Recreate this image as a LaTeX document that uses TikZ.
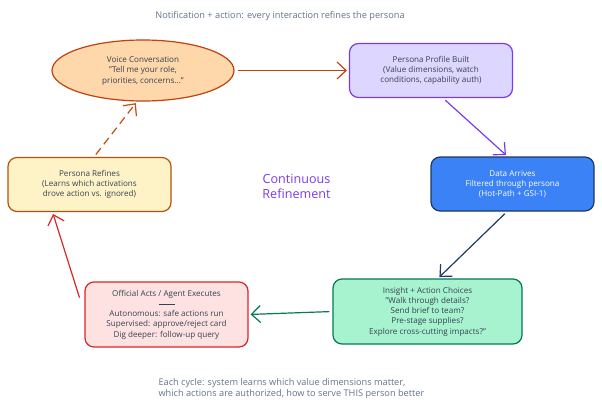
\documentclass[tikz,border=0pt]{standalone}
\usepackage{fontspec}
\setmainfont{Open Sans}
\usetikzlibrary{shapes.geometric,arrows.meta}

\definecolor{ink}{HTML}{374151}
\definecolor{note}{HTML}{64748B}
\definecolor{voice-fill}{HTML}{FED7AA}
\definecolor{voice-line}{HTML}{C2410C}
\definecolor{profile-fill}{HTML}{DDD6FE}
\definecolor{profile-line}{HTML}{7C3AED}
\definecolor{data-fill}{HTML}{3B82F6}
\definecolor{data-line}{HTML}{1E3A5F}
\definecolor{insight-fill}{HTML}{A7F3D0}
\definecolor{insight-line}{HTML}{047857}
\definecolor{acts-fill}{HTML}{FEE2E2}
\definecolor{acts-line}{HTML}{DC2626}
\definecolor{refine-fill}{HTML}{FEF3C7}
\definecolor{refine-line}{HTML}{B45309}

\begin{document}
\begin{tikzpicture}[x=1pt,y=-1pt,
            box-node/.style={rectangle,rounded corners=9pt,draw,line width=1.2pt,minimum width=163pt,minimum height=54pt,inner sep=0pt,align=center,text=ink,font=\fontsize{8.1}{10.3}\selectfont},
            oval-node/.style={ellipse,draw,line width=1.2pt,minimum width=182pt,minimum height=61pt,inner sep=0pt,align=center,text=ink,font=\fontsize{8.1}{10.5}\selectfont},
            flow-arrow/.style={line width=1.2pt,shorten >=2pt,shorten <=3pt,-{Straight Barb[length=9pt,width=17pt,line width=1.2pt]}},
            note-text/.style={text=note,font=\fontsize{9.2}{11}\selectfont},
        ]
            \useasboundingbox (0,0) rectangle (602,407);

            \node[note-text] (title) at (280, 16) {Notification + action: every interaction refines the persona};

            \node[oval-node,fill=voice-fill,draw=voice-line] (voice) at (143, 70.5) {Voice Conversation\\"Tell me your role,\\priorities, concerns..."};
            \node[box-node,fill=profile-fill,draw=profile-line] (profile) at (431, 70.5) {Persona Profile Built\\(Value dimensions, watch\\conditions, capability auth)};
            \node[box-node,fill=data-fill,draw=data-line,text=white] (data) at (512.5, 184) {Data Arrives\\Filtered through persona\\(Hot-Path + GSI-1)};
            \node[box-node,fill=insight-fill,draw=insight-line,minimum width=189pt,minimum height=65pt] (insight) at (427.5, 311.5) {Insight + Action Choices\\"Walk through details?\\Send brief to team?\\Pre-stage supplies?\\Explore cross-cutting impacts?"};
            \node[box-node,fill=acts-fill,draw=acts-line,minimum height=65pt] (acts) at (166.5, 314.5) {Official Acts / Agent Executes\\\rule[0.5ex]{16pt}{0.6pt}\\Autonomous: safe actions run\\Supervised: approve/reject card\\Dig deeper: follow-up query};
            \node[box-node,fill=refine-fill,draw=refine-line] (refine) at (89.5, 184.5) {Persona Refines\\(Learns which activations\\drove action vs. ignored)};

            \node[text=profile-line,font=\fontsize{12.6}{15.5}\selectfont,align=center] (centre) at (296.5, 186.5) {Continuous\\Refinement};

            \node[note-text,align=left,anchor=north west] (footer) at (155, 375) {Each cycle: system learns which value dimensions matter,\\which actions are authorized, how to serve THIS person better};

            \draw[flow-arrow,draw=voice-line] (voice.east) -- (profile.west);
            \draw[flow-arrow,draw=profile-line] ([xshift=12pt]profile.south) -- ([xshift=-5pt]data.north);
            \draw[flow-arrow,draw=data-line] ([xshift=-5.5pt]data.south) -- ([xshift=10.5pt]insight.north);
            \draw[flow-arrow,draw=insight-line] (insight.west) -- (acts.east);
            \draw[flow-arrow,draw=acts-line] ([shift={(-4pt,14pt)}]acts.west) -- ([xshift=-37pt]refine.south);
            \draw[flow-arrow,draw=voice-line!85!orange,dashed,dash pattern=on 8pt off 5pt] ([xshift=4.5pt]refine.north) -- ([xshift=-6pt]voice.south);
        \end{tikzpicture}
\end{document}
